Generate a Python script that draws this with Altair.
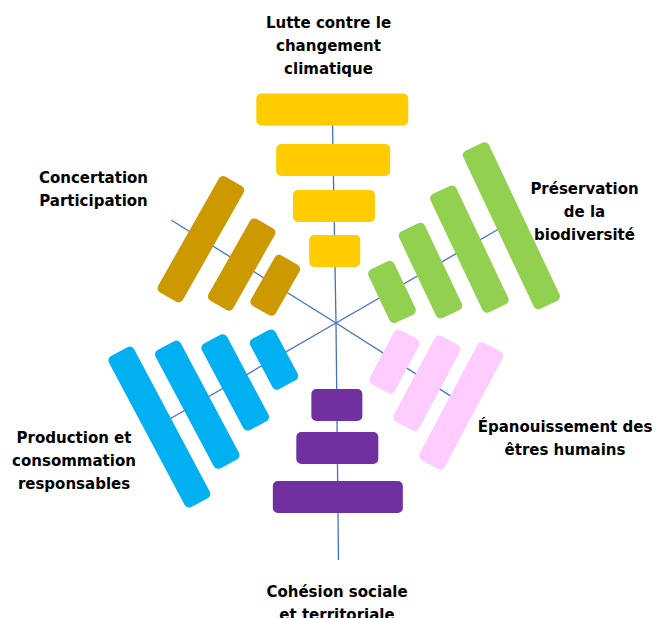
import math
import altair as alt
import pandas as pd

# ------------------------------------------------------------------
# Data
# ------------------------------------------------------------------
themes = [
    "Lutte contre le changement climatique",
    "Préservation de la biodiversité",
    "Épanouissement des êtres humains",
    "Cohésion sociale et territoriale",
    "Production et consommation responsables",
    "Concertation Participation",
]
label_lines = [
    ["Lutte contre le", "changement", "climatique"],
    ["Préservation", "de la", "biodiversité"],
    ["Épanouissement des", "êtres humains"],
    ["Cohésion sociale", "et territoriale"],
    ["Production et", "consommation", "responsables"],
    ["Concertation", "Participation"],
]
# radial distance of each bar's centre from the hub
bar_radius = [
    [72, 117, 163, 213.5],
    [64, 108, 152.5, 200.5],
    [70, 109, 150],
    [82, 125, 174],
    [72, 117, 161, 205],
    [71.5, 111, 159],
]
# length of each bar
bar_length = [
    [51, 82, 114, 152],
    [59, 96, 131, 175],
    [61, 97, 133],
    [51, 82, 130],
    [57, 98, 134, 171],
    [58, 94, 133],
]

# ------------------------------------------------------------------
# Layout / style
# ------------------------------------------------------------------
colors = ["#FFCC00", "#92D050", "#FFCCFF", "#7030A0", "#00B0F0", "#CC9900"]
hub = (336.0, 323.0)
spoke_angle = [91, 30, -32.5, 270.6, 210, 148]
spoke_len = [205, 195, 145, 237, 200, 194]
bar_dir = [91, 29, -33.5, 270.6, 210.5, 148.2]
bar_normal = [90, 25.3, -28, 90, 28, -29.5]
thickness = [32, 28.5, 28.5, 32, 28.5, 28.5]
corner_r = 5
label_anchor = [(328.5, 28.3), (584.5, 193.5), (565, 432), (337, 596.5), (74, 443), (93.5, 182.5)]
line_gap = 23

W, H = 646, 610
xs = alt.Scale(domain=[8, 8 + W], nice=False, zero=False)
ys = alt.Scale(domain=[8, 8 + H], nice=False, zero=False, reverse=True)

# spokes
spokes = []
for g in range(len(themes)):
    a = math.radians(spoke_angle[g])
    spokes.append({
        "theme": themes[g],
        "x": hub[0], "y": hub[1],
        "x2": hub[0] + spoke_len[g] * math.cos(a),
        "y2": hub[1] - spoke_len[g] * math.sin(a),
    })
spokes_df = pd.DataFrame(spokes)

# bars as rounded rectangles (polygon + round-joined stroke)
rows = []
for g in range(len(themes)):
    a = math.radians(bar_dir[g])
    p = math.radians(bar_normal[g])
    nx, ny = math.cos(p), -math.sin(p)
    tx, ty = math.sin(p), math.cos(p)
    hv = thickness[g] / 2 - corner_r
    for i, (d, L) in enumerate(zip(bar_radius[g], bar_length[g])):
        cx = hub[0] + d * math.cos(a)
        cy = hub[1] - d * math.sin(a)
        hu = L / 2 - corner_r
        pts = [(hu, hv), (hu, -hv), (-hu, -hv), (-hu, hv), (hu, hv)]
        for k, (u, v) in enumerate(pts):
            rows.append({
                "bar": f"{g}-{i}",
                "theme": themes[g],
                "k": k,
                "x": cx + u * tx + v * nx,
                "y": cy + u * ty + v * ny,
                "color": colors[g],
            })
bars_df = pd.DataFrame(rows)

texts = []
for g in range(len(themes)):
    ax, ay = label_anchor[g]
    for j, line in enumerate(label_lines[g]):
        texts.append({"text": line, "x": ax, "y": ay + j * line_gap})
text_df = pd.DataFrame(texts)

spoke_layer = alt.Chart(spokes_df).mark_rule(color="#4472C4", strokeWidth=1.3).encode(
    x=alt.X("x:Q", scale=xs, axis=None),
    y=alt.Y("y:Q", scale=ys, axis=None),
    x2="x2:Q",
    y2="y2:Q",
)

bar_layer = alt.Chart(bars_df).mark_line(
    filled=True, strokeWidth=2 * corner_r, strokeJoin="round", strokeCap="round"
).encode(
    x=alt.X("x:Q", scale=xs, axis=None),
    y=alt.Y("y:Q", scale=ys, axis=None),
    detail="bar:N",
    order="k:Q",
    fill=alt.Fill("color:N", scale=None),
    stroke=alt.Stroke("color:N", scale=None),
)

text_layer = alt.Chart(text_df).mark_text(
    font="DejaVu Sans", fontSize=15, fontWeight="bold", color="#000000",
    align="center", baseline="alphabetic",
).encode(
    x=alt.X("x:Q", scale=xs, axis=None),
    y=alt.Y("y:Q", scale=ys, axis=None),
    text="text:N",
)

chart = alt.layer(spoke_layer, bar_layer, text_layer).properties(
    width=W, height=H, padding=0, autosize=alt.AutoSizeParams(type="none")
).configure_view(stroke=None)

chart.save("out.html", embed_options={"renderer": "svg", "actions": False})
